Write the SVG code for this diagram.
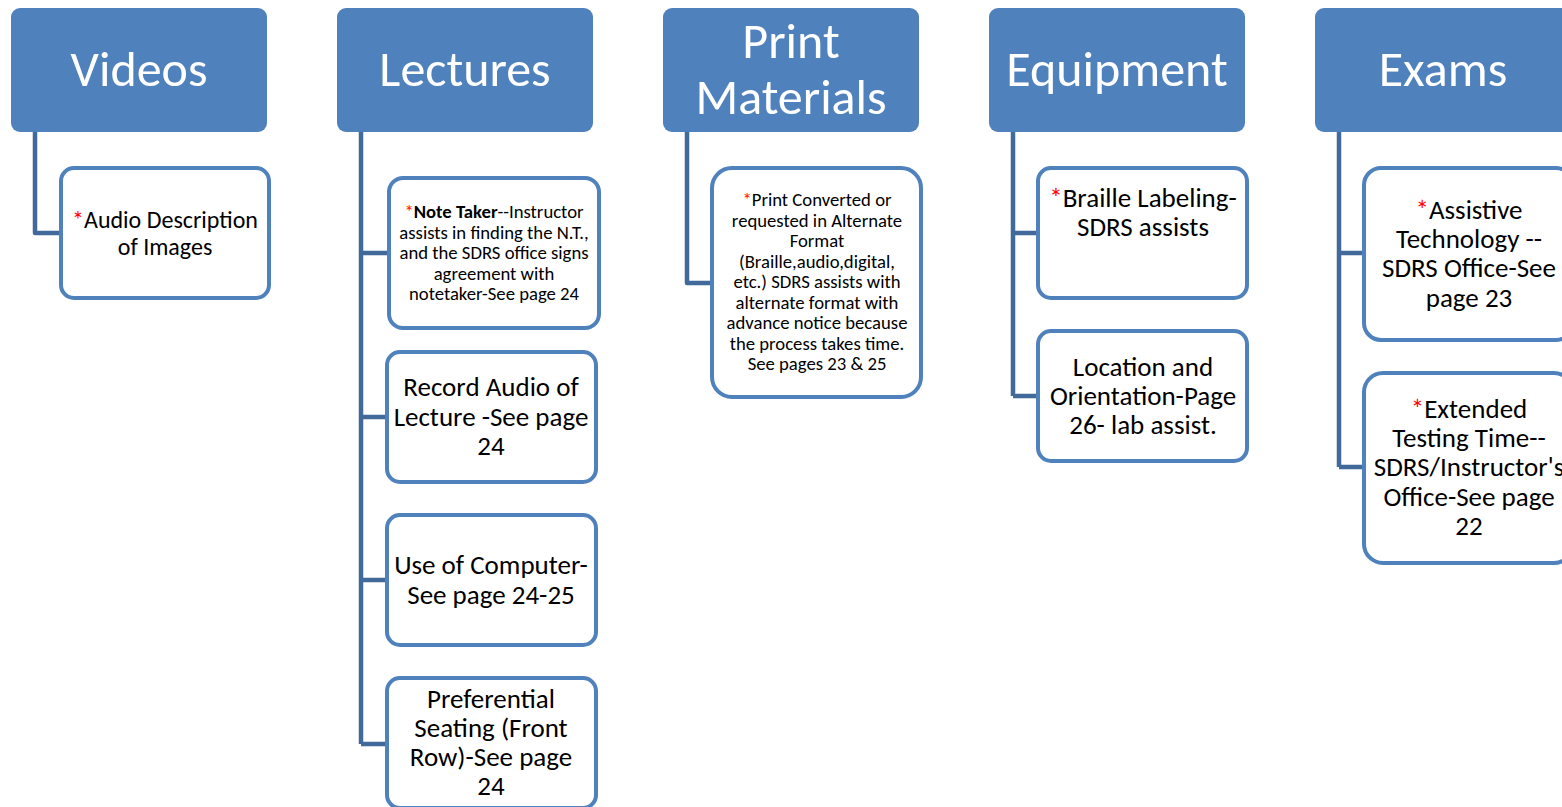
<svg xmlns="http://www.w3.org/2000/svg" width="1562" height="807" viewBox="0 0 1562 807">
<style>
.hdr{fill:#4f81bd;}
.htx{fill:#ffffff;font-family:Carlito,Lato,"Liberation Sans",sans-serif;font-size:50px;text-anchor:middle;}
.box{fill:#ffffff;stroke:#4f81bd;stroke-width:4;}
.tx{fill:#000000;font-family:Carlito,Lato,"Liberation Sans",sans-serif;text-anchor:middle;}
.big{font-size:27px;}
.ad{font-size:24px;}
.sm{font-size:18.7px;}
.st{fill:#ff0000;}
.con{fill:none;stroke:#41699a;stroke-width:4.5;stroke-linejoin:round;}
</style>
<rect width="1562" height="807" fill="#ffffff"/>
<g id="connectors">
<path class="con" d="M35,132 V233 H62"/>
<path class="con" d="M361,132 V744 M361,253 H390 M361,417 H388 M361,580 H388 M361,744 H388"/>
<path class="con" d="M687,132 V283 H714"/>
<path class="con" d="M1013,132 V396 M1013,233 H1040 M1013,396 H1040"/>
<path class="con" d="M1339,132 V467 M1339,253 H1366 M1339,467 H1366"/>
</g>
<g id="videos"><rect class="hdr" x="11" y="8" width="256" height="124" rx="9"/><text class="htx" x="139" y="86">Videos</text></g>
<g id="lectures"><rect class="hdr" x="337" y="8" width="256" height="124" rx="9"/><text class="htx" x="465" y="86">Lectures</text></g>
<g id="print"><rect class="hdr" x="663" y="8" width="256" height="124" rx="9"/><text class="htx" x="791" y="58">Print</text><text class="htx" x="791" y="114">Materials</text></g>
<g id="equipment"><rect class="hdr" x="989" y="8" width="256" height="124" rx="9"/><text class="htx" x="1117" y="86">Equipment</text></g>
<g id="exams"><rect class="hdr" x="1315" y="8" width="256" height="124" rx="9"/><text class="htx" x="1443" y="86">Exams</text></g>

<g id="audio-desc"><rect class="box" x="61" y="168" width="208" height="130" rx="13"/>
<text class="tx ad" x="165" y="228"><tspan class="st">*</tspan>Audio Description</text>
<text class="tx ad" x="165" y="255">of Images</text></g>

<g id="note-taker"><rect class="box" x="389" y="178" width="210" height="150" rx="14"/>
<text class="tx sm" x="494" y="218"><tspan class="st">*</tspan><tspan font-weight="bold">Note Taker</tspan>--Instructor</text>
<text class="tx sm" x="494" y="239">assists in finding the N.T.,</text>
<text class="tx sm" x="494" y="259">and the SDRS office signs</text>
<text class="tx sm" x="494" y="280">agreement with</text>
<text class="tx sm" x="494" y="300">notetaker-See page 24</text></g>

<g id="record-audio"><rect class="box" x="387" y="352" width="209" height="130" rx="13"/>
<text class="tx big" x="491" y="396">Record Audio of</text>
<text class="tx big" x="491" y="426">Lecture -See page</text>
<text class="tx big" x="491" y="455">24</text></g>

<g id="computer"><rect class="box" x="387" y="515" width="209" height="130" rx="13"/>
<text class="tx big" x="491" y="574">Use of Computer-</text>
<text class="tx big" x="491" y="604">See page 24-25</text></g>

<g id="seating"><rect class="box" x="387" y="678" width="209" height="130" rx="13"/>
<text class="tx big" x="491" y="708">Preferential</text>
<text class="tx big" x="491" y="737">Seating (Front</text>
<text class="tx big" x="491" y="766">Row)-See page</text>
<text class="tx big" x="491" y="795">24</text></g>

<g id="print-converted"><rect class="box" x="712" y="168" width="209" height="229" rx="20"/>
<text class="tx sm" x="817" y="206"><tspan class="st">*</tspan>Print Converted or</text>
<text class="tx sm" x="817" y="227">requested  in Alternate</text>
<text class="tx sm" x="817" y="247">Format</text>
<text class="tx sm" x="817" y="268">(Braille,audio,digital,</text>
<text class="tx sm" x="817" y="288">etc.) SDRS assists with</text>
<text class="tx sm" x="817" y="309">alternate format with</text>
<text class="tx sm" x="817" y="329">advance notice because</text>
<text class="tx sm" x="817" y="350">the process takes time.</text>
<text class="tx sm" x="817" y="370">See pages 23 &amp; 25</text></g>

<g id="braille"><rect class="box" x="1038" y="168" width="209" height="130" rx="13"/>
<text class="tx big" x="1143" y="207"><tspan class="st">*</tspan>Braille Labeling-</text>
<text class="tx big" x="1143" y="236">SDRS assists</text></g>

<g id="location"><rect class="box" x="1038" y="331" width="209" height="130" rx="13"/>
<text class="tx big" x="1143" y="376">Location and</text>
<text class="tx big" x="1143" y="405">Orientation-Page</text>
<text class="tx big" x="1143" y="434">26- lab assist.</text></g>

<g id="assistive"><rect class="box" x="1364" y="168" width="209" height="172" rx="17"/>
<text class="tx big" x="1469" y="219"><tspan class="st">*</tspan>Assistive</text>
<text class="tx big" x="1469" y="248">Technology --</text>
<text class="tx big" x="1469" y="277">SDRS Office-See</text>
<text class="tx big" x="1469" y="307">page 23</text></g>

<g id="extended"><rect class="box" x="1364" y="373" width="209" height="190" rx="19"/>
<text class="tx big" x="1469" y="418"><tspan class="st">*</tspan>Extended</text>
<text class="tx big" x="1469" y="447">Testing Time--</text>
<text class="tx big" x="1469" y="476">SDRS/Instructor's</text>
<text class="tx big" x="1469" y="506">Office-See page</text>
<text class="tx big" x="1469" y="535">22</text></g>
</svg>
